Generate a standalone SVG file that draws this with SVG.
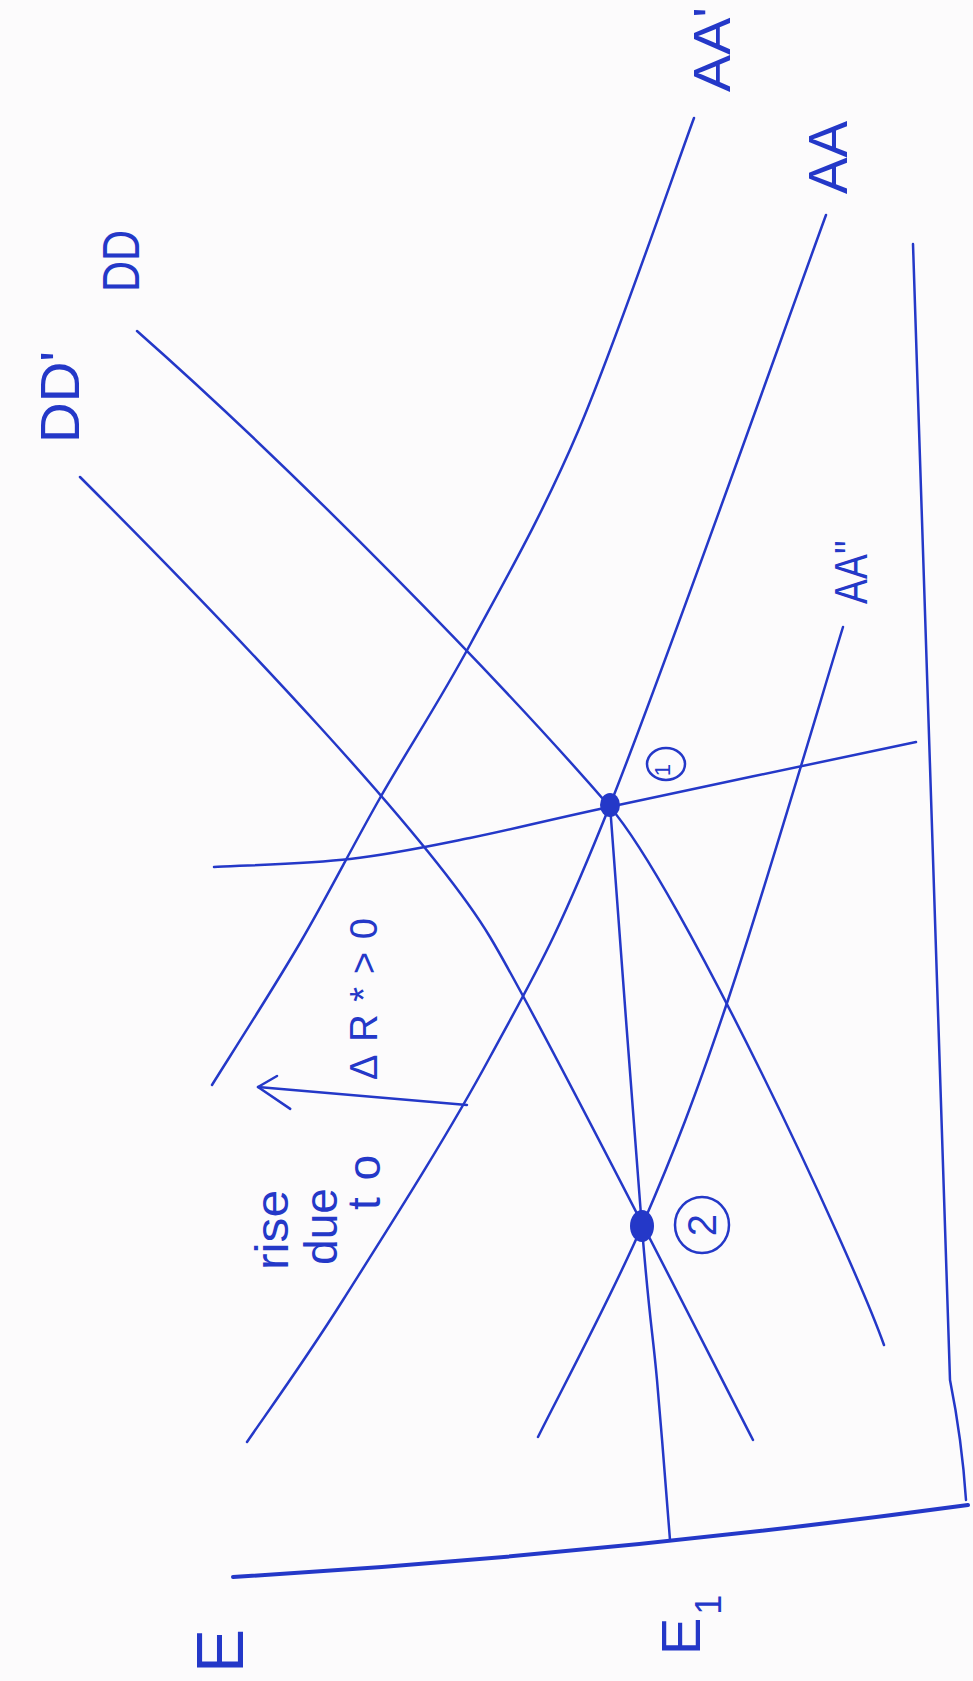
<svg xmlns="http://www.w3.org/2000/svg" width="973" height="1681" viewBox="0 0 973 1681">
  <defs>
    <style>
      .ink{fill:none;stroke:#2438c8;stroke-width:2.5;stroke-linecap:round;stroke-linejoin:round}
      .axis{fill:none;stroke:#2438c8;stroke-width:4;stroke-linecap:round;stroke-linejoin:round}
      .hand{font-family:"Liberation Sans","DejaVu Sans",sans-serif;fill:#2438c8}
      .dot{fill:#2438c8}
    </style>
    <marker id="arrow" viewBox="-40 -25 50 50" markerWidth="50" markerHeight="50" refX="0" refY="0" markerUnits="userSpaceOnUse" orient="auto" overflow="visible">
      <path d="M-18,12.6 L0,0 L-34,-19" fill="none" stroke="#2438c8" stroke-width="2.5" stroke-linecap="round" stroke-linejoin="round"/>
    </marker>
  </defs>
  <rect x="0" y="0" width="973" height="1681" fill="#fcfbfc"/>

  <g id="axes">
    <path class="axis" d="M233,1577 Q600,1555 968,1505"/>
    <path class="ink" stroke-width="3" d="M913,244 L950,1380 Q962,1440 966,1500"/>
  </g>

  <g id="connectors">
    <path id="LR" class="ink" d="M214,867 C236.7,865.7 307.3,863.8 350,859 C392.7,854.2 426.8,846.7 470,838 C513.2,829.3 534.7,823 609,807 C683.3,791 864.8,752.8 916,742"/>
    <path id="Ebar-line" class="ink" d="M610,805 C615.3,875.5 634.2,1132.2 642,1228 C649.8,1323.8 652.3,1328 657,1380 C661.7,1432 667.8,1513.3 670,1540"/>
    <path id="AA" class="ink" d="M826,215 C790,313.3 666,664.7 610,805 C554,945.3 534.5,974.5 490,1057 C445.5,1139.5 383.5,1235.8 343,1300 C302.5,1364.2 263,1418.3 247,1442"/>
    <path id="AA1" class="ink" d="M694,118 C674.8,169.8 616.2,341.5 579,429 C541.8,516.5 504.2,581.5 471,643 C437.8,704.5 408.5,748 380,798 C351.5,848 328,895.2 300,943 C272,990.8 226.7,1061.3 212,1085"/>
    <path id="AA2" class="ink" d="M843,627 C824,688.7 762.5,897.2 729,997 C695.5,1096.8 673.8,1152.7 642,1226 C610.2,1299.3 555.3,1401.8 538,1437"/>
    <path id="DD" class="ink" d="M137,331 C300,475 500,680 610,807 C680,888 850,1250 884,1345"/>
    <path id="DD1" class="ink" d="M80,477 C230,627 430,837 490,937 C540,1020 703,1343 753,1440"/>
    <path id="shift-arrow" class="ink" d="M467,1105 L258,1087" marker-end="url(#arrow)"/>
  </g>

  <g id="point1">
    <ellipse class="dot" cx="610" cy="805" rx="10" ry="12"/>
    <ellipse class="ink" cx="666" cy="764" rx="19" ry="16"/>
    <text class="hand" font-size="22" transform="translate(670,770) rotate(-90)" text-anchor="middle">1</text>
  </g>
  <g id="point2">
    <ellipse class="dot" cx="642" cy="1226" rx="12" ry="16"/>
    <ellipse class="ink" cx="702" cy="1225" rx="27" ry="28"/>
    <text class="hand" font-size="40" transform="translate(716,1225) rotate(-90)" text-anchor="middle">2</text>
  </g>

  <g id="label-AA1"><text class="hand" font-size="52" textLength="85" lengthAdjust="spacingAndGlyphs" transform="translate(730,92) rotate(-90)">AA'</text></g>
  <g id="label-AA"><text class="hand" font-size="56" textLength="73" lengthAdjust="spacingAndGlyphs" transform="translate(847,194) rotate(-90)">AA</text></g>
  <g id="label-AA2"><text class="hand" font-size="46" textLength="64" lengthAdjust="spacingAndGlyphs" transform="translate(867,604) rotate(-90)">AA''</text></g>
  <g id="label-DD"><text class="hand" font-size="52" textLength="62" lengthAdjust="spacingAndGlyphs" transform="translate(139,292) rotate(-90)">DD</text></g>
  <g id="label-DD1"><text class="hand" font-size="56" textLength="92" lengthAdjust="spacingAndGlyphs" transform="translate(79,443) rotate(-90)">DD'</text></g>
  <g id="label-dR"><text class="hand" font-size="38" textLength="162" lengthAdjust="spacing" transform="translate(377,1080) rotate(-90)">ΔR*&gt;0</text></g>
  <g id="label-rise">
    <text class="hand" font-size="46" textLength="80" lengthAdjust="spacingAndGlyphs" transform="translate(288,1270) rotate(-90)">rise</text>
    <text class="hand" font-size="46" textLength="77" lengthAdjust="spacingAndGlyphs" transform="translate(337,1265) rotate(-90)">due</text>
    <text class="hand" font-size="46" textLength="55" lengthAdjust="spacing" transform="translate(380,1210) rotate(-90)">to</text>
  </g>
  <g id="label-E"><text class="hand" font-size="66" transform="translate(243,1673) rotate(-90)">E</text></g>
  <g id="label-E1"><text class="hand" font-size="56" transform="translate(700,1655) rotate(-90)">E<tspan baseline-shift="sub" dx="3" font-size="36">1</tspan></text></g>
</svg>
